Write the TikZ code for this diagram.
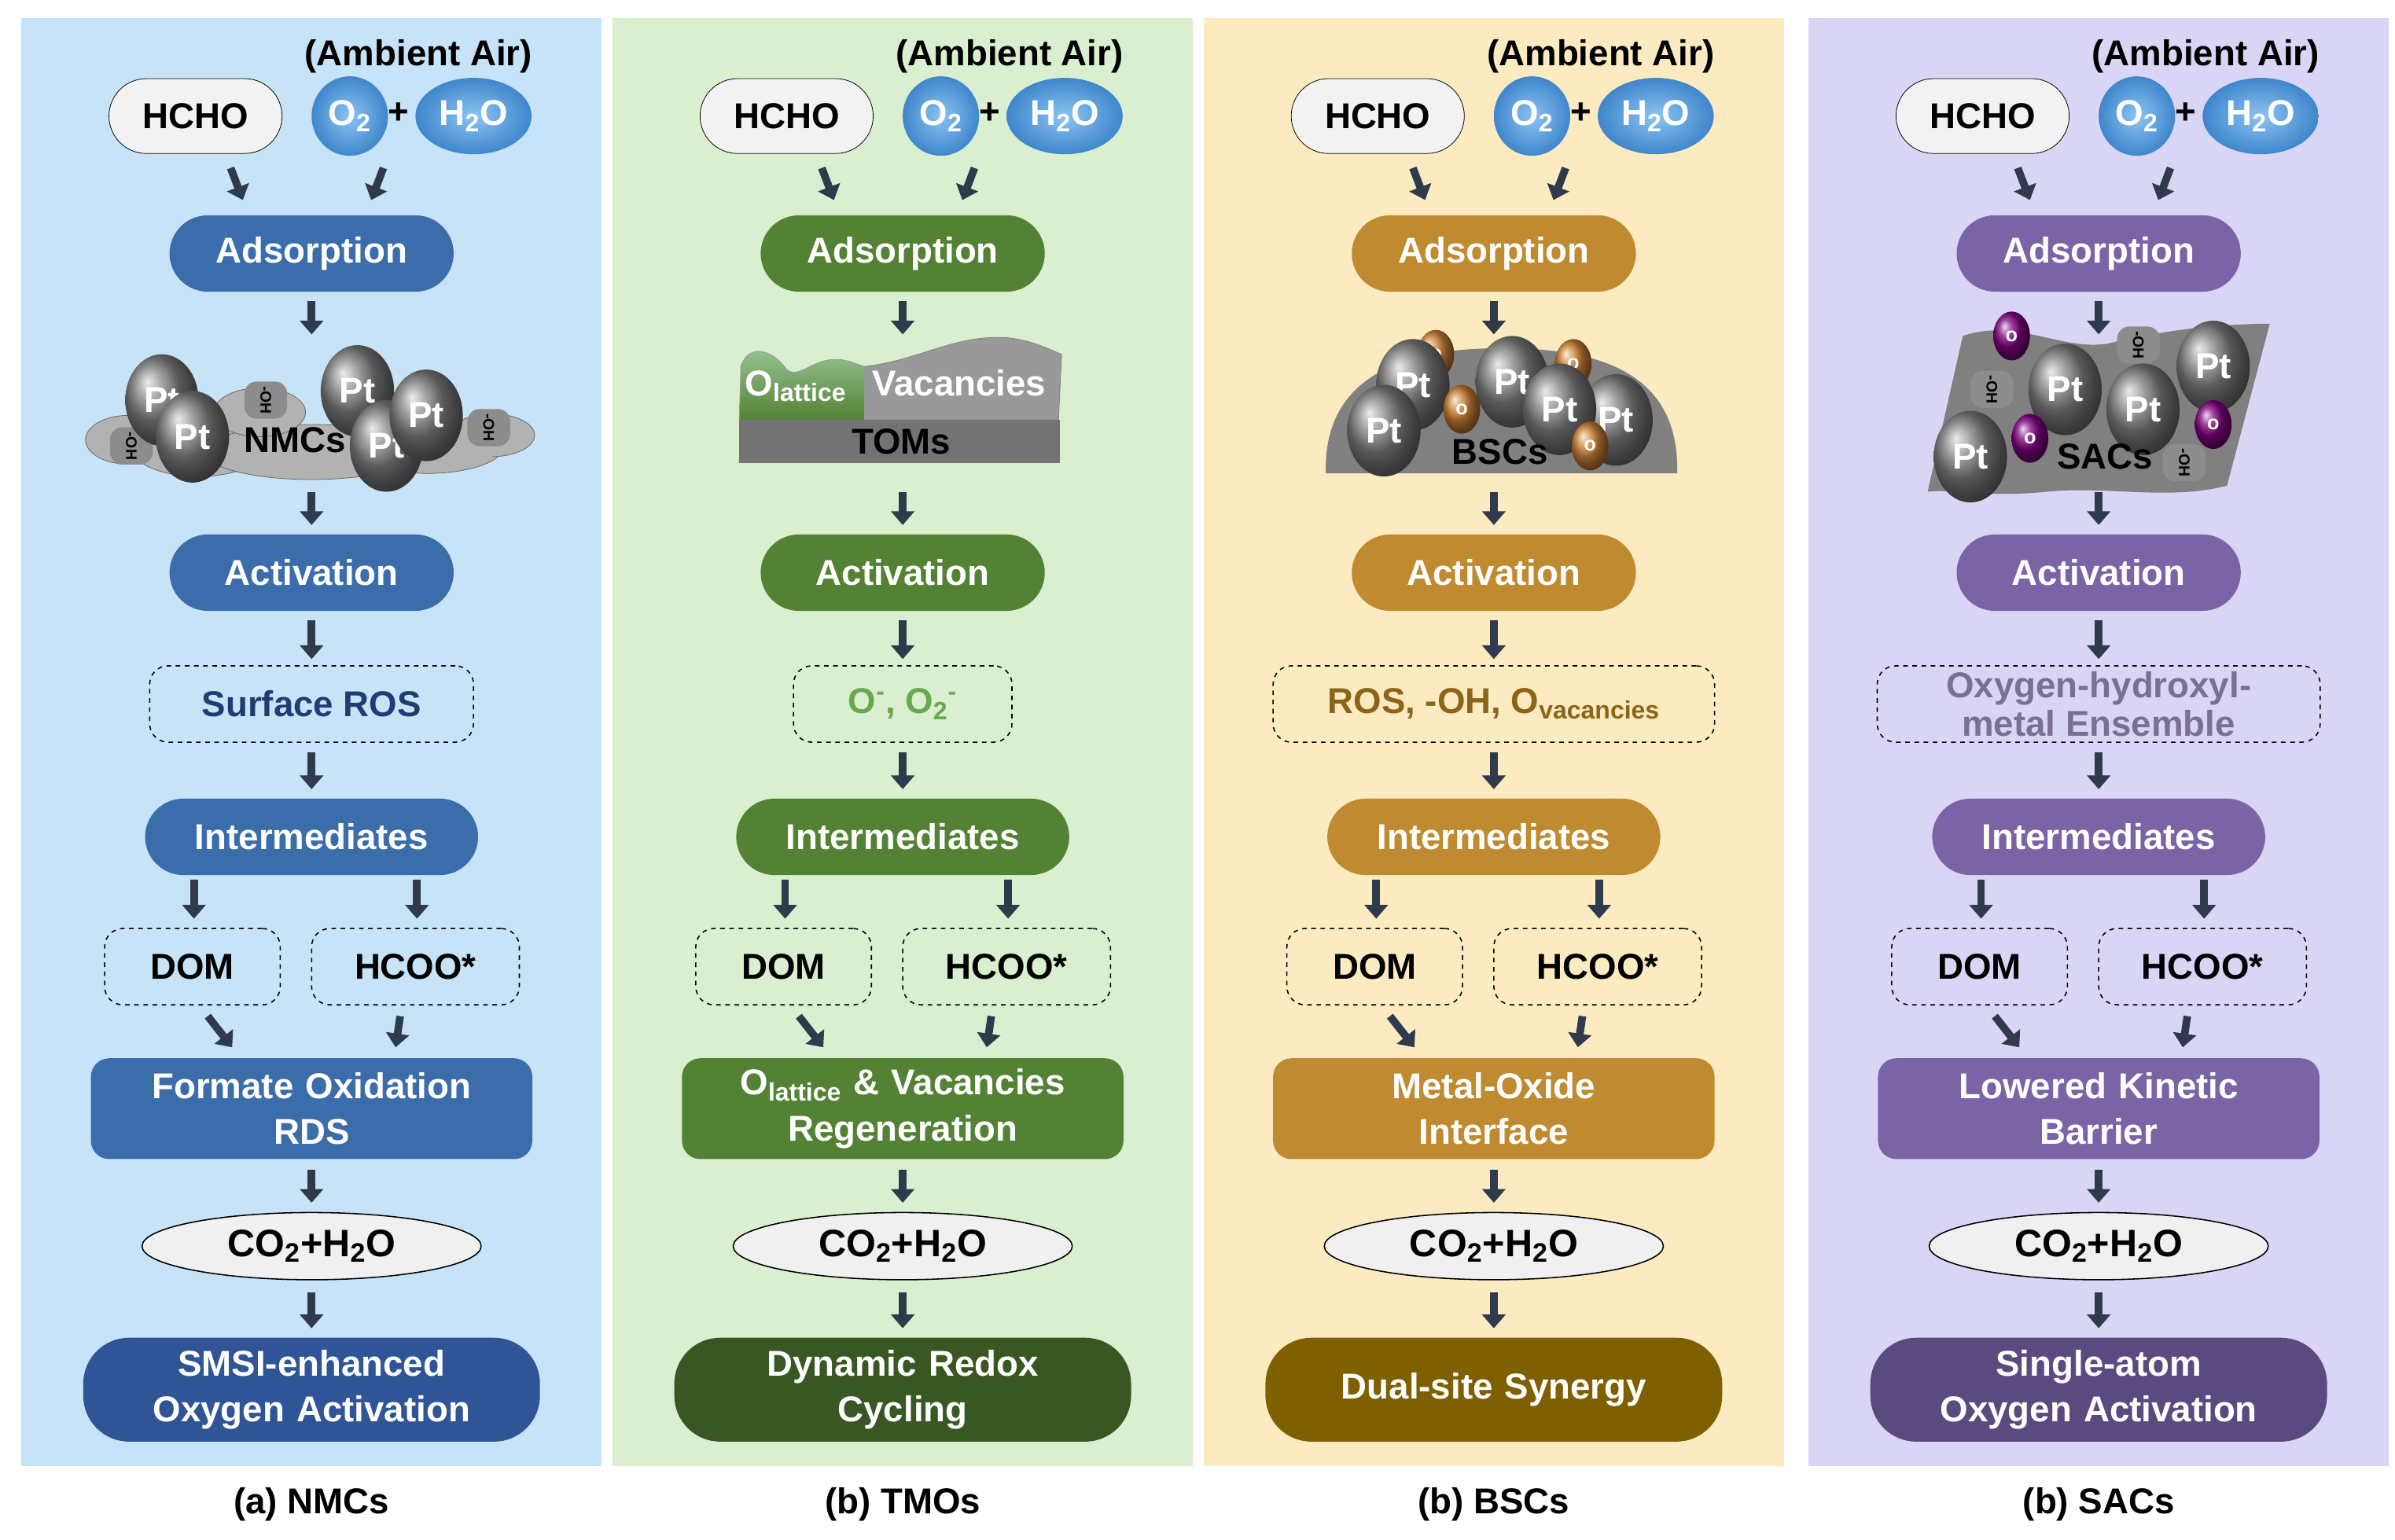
\documentclass[tikz,border=0pt]{standalone}
\usepackage{fontspec}
\setmainfont{Liberation Sans}
\usetikzlibrary{shapes.misc,shapes.geometric,arrows.meta}
\definecolor{abg}{HTML}{C7E3F7}\definecolor{amain}{HTML}{3C6DAB}\definecolor{adark}{HTML}{2F5597}\definecolor{atxt}{HTML}{1F3C73}
\definecolor{bbg}{HTML}{D9EFD0}\definecolor{bmain}{HTML}{548235}\definecolor{bdark}{HTML}{385723}\definecolor{btxt}{HTML}{6AA84F}
\definecolor{cbg}{HTML}{FCEBC0}\definecolor{cmain}{HTML}{BF8A30}\definecolor{cdark}{HTML}{7F6000}\definecolor{ctxt}{HTML}{8B6418}
\definecolor{dbg}{HTML}{D9D6F5}\definecolor{dmain}{HTML}{7B64A6}\definecolor{ddark}{HTML}{5B4A80}\definecolor{dtxt}{HTML}{7A6F95}
\definecolor{arrc}{HTML}{2F3B4C}\definecolor{blob}{HTML}{3F86CC}\definecolor{blobl}{HTML}{8CC4F2}
\tikzset{
 x=1pt,y=-1pt,
 f/.style={font=\fontsize{23.5}{30}\selectfont\bfseries},
 pill/.style={f,shape=rounded rectangle,fill=#1,text=white,minimum height=50,inner sep=2},
 box/.style={f,rounded corners=12,fill=#1,text=white,minimum height=66,minimum width=289,align=center,text width=280},
 dbox/.style={f,rounded corners=12,draw=black,dashed,thick,minimum height=50,align=center},
 arr/.style={draw=arrc,line width=5pt,-{Triangle[width=15pt,length=9pt]}},
 ball/.style={shape=ellipse,shading=ball,ball color=#1,text=white,f,inner sep=0},
 bblob/.style={shape=ellipse,inner color=blobl,outer color=blob,text=white,f,inner sep=0},
}
\newcommand\panel[7]{%
 \fill[#1bg] (#2-190,12) rectangle (#2+190,960);
 \node[f] (#1air) at (#2+70,37) {(Ambient Air)};
 \node[f,shape=rounded rectangle,draw=black,fill=black!5,minimum width=120,minimum height=49] (#1h) at (#2-76,76) {HCHO};
 \node[bblob,minimum width=50,minimum height=52] (#1o) at (#2+25,76) {O\textsubscript{2}};
 \node[f] (#1plus) at (#2+57,74) {+};
 \node[bblob,minimum width=76,minimum height=50] (#1w) at (#2+106,76) {H\textsubscript{2}O};
 \node[pill=#1main,minimum width=190] (#1ads) at (#2,166) {Adsorption};
 \coordinate (#1h1) at (#2-53,110); \coordinate (#1h2) at (#2-45,131);
 \coordinate (#1o1) at (#2+47,110); \coordinate (#1o2) at (#2+39,131);
 \coordinate (#1ca) at (#2,219); \coordinate (#1cb) at (#2,322);
 \draw[arr] (#1h1) -- (#1h2);
 \draw[arr] (#1o1) -- (#1o2);
 \draw[arr] ([yshift=-6pt]#1ads.south) -- (#1ca);
 \node[pill=#1main,minimum width=190] (#1act) at (#2,375) {Activation};
 \draw[arr] (#1cb) -- ([yshift=6pt]#1act.north);
 \node[dbox,text=#1txt,minimum width=#5,font=\fontsize{23.5}{25}\selectfont\bfseries] (#1ros) at (#2,461) {#4};
 \draw[arr] ([yshift=-6pt]#1act.south) -- ([yshift=4pt]#1ros.north);
 \node[pill=#1main,minimum width=222] (#1int) at (#2,548) {Intermediates};
 \draw[arr] ([yshift=-6pt]#1ros.south) -- ([yshift=6pt]#1int.north);
 \node[dbox,minimum width=115] (#1dom) at (#2-78,633) {DOM};
 \node[dbox,minimum width=136] (#1hc) at (#2+68,633) {HCOO*};
 \draw[arr] ([xshift=-77pt,yshift=-3pt]#1int.south) -- ([xshift=-77pt,yshift=6pt]#1int.south |- #1dom.north);
 \draw[arr] ([xshift=69pt,yshift=-3pt]#1int.south) -- ([xshift=69pt,yshift=6pt]#1int.south |- #1hc.north);
 \node[box=#1main] (#1mid) at (#2,726) {#6};
 \draw[arr] ([xshift=10pt,yshift=-7pt]#1dom.south) -- ([xshift=-52pt,yshift=7pt]#1mid.north);
 \draw[arr] ([xshift=-10pt,yshift=-7pt]#1hc.south) -- ([xshift=55pt,yshift=7pt]#1mid.north);
 \node[f,ellipse,draw=black,thick,fill=black!6,minimum width=222,minimum height=44,inner sep=0,font=\fontsize{25}{28}\selectfont\bfseries] (#1co) at (#2,816) {CO\textsubscript{2}+H\textsubscript{2}O};
 \draw[arr] ([yshift=-7pt]#1mid.south) -- ([yshift=6pt]#1co.north);
 \node[box=#1dark,rounded corners=30,minimum width=299,minimum height=68,text width=290] (#1fin) at (#2,910) {#7};
 \draw[arr] ([yshift=-8pt]#1co.south) -- ([yshift=6pt]#1fin.north);
 \node[f] (#1cap) at (#2,985) {#3};
}
\newcommand\pt[3][24]{\node[ball=black!50,minimum width=2*#1,minimum height=2.5*#1] at (#2,#3) {Pt};}
\newcommand\ob[3]{\node[ball=#1,minimum width=24,minimum height=32,font=\fontsize{13}{14}\selectfont\bfseries] at (#2,#3) {o};}
\newcommand\oh[3][0]{\node[fill=black!45,rounded corners=8,rotate=-90,font=\fontsize{10}{11}\selectfont\bfseries,inner sep=3,minimum height=28] at (#2,#3) {-OH};}
\begin{document}
\begin{tikzpicture}
\useasboundingbox (0,0) rectangle (1568,1008);
\fill[white] (0,0) rectangle (1568,1008);
\panel{a}{204}{(a) NMCs}{Surface ROS}{212}{Formate Oxidation\\RDS}{SMSI-enhanced\\Oxygen Activation}
\panel{b}{591}{(b) TMOs}{O\textsuperscript{-}, O\textsubscript{2}\textsuperscript{-}}{143}{O\textsubscript{lattice} \& Vacancies\\Regeneration}{Dynamic Redox\\Cycling}
\panel{c}{978}{(b) BSCs}{ROS, -OH, O\textsubscript{vacancies}}{289}{Metal-Oxide\\Interface}{Dual-site Synergy}
\panel{d}{1374}{(b) SACs}{Oxygen-hydroxyl-\\metal Ensemble}{290}{Lowered Kinetic\\Barrier}{Single-atom\\Oxygen Activation}
% NMCs
\foreach \x/\y/\rx/\ry in {84/288/28/16,130/292/45/20,204/296/70/18,280/292/50/18,322/285/28/14,170/270/30/16}
 \filldraw[fill=black!30,draw=black!60] (\x,\y) ellipse [x radius=\rx, y radius=\ry];
\fill[black!30] (84,292) rectangle (322,300);
\oh{174}{262}\oh{86}{292}\oh{320}{280}
\pt{106}{262}\pt{126}{286}\node[f] at (193,288) {NMCs};
\pt{234}{256}\pt{253}{292}\pt{279}{272}
% TOMs
\filldraw[fill=black!40,draw=black!50] (566,240) .. controls (600,236) and (620,222) .. (650,221) .. controls (670,220) and (685,228) .. (695,232) -- (693,275) -- (566,275) -- cycle;
\shade[top color=green!45!black!40,bottom color=bmain,draw=black!40] (484,275) -- (485,240) .. controls (490,225) and (505,228) .. (515,242) .. controls (525,250) and (535,228) .. (560,238) -- (566,240) -- (566,275) -- cycle;
\fill[black!55] (484,275) rectangle (694,303);
\node[f,text=white,inner sep=0] at (521,253) {O\textsubscript{lattice}};
\node[f,text=white,inner sep=0] at (628,251) {Vacancies};
\node[f] at (590,289) {TOMs};
% BSCs
\fill[black!50] (868,310) .. controls (866,240) and (930,228) .. (983,228) .. controls (1040,228) and (1100,240) .. (1098,310) -- cycle;
\ob{brown!80!orange}{940}{232}\ob{brown!80!orange}{1030}{238}
\pt{925}{252}\pt{990}{250}\pt{1058}{275}\pt{1021}{268}\pt{906}{282}
\ob{brown!80!orange}{957}{268}\ob{brown!80!orange}{1041}{292}
\node[f] at (982,296) {BSCs};
% SACs
\fill[black!50] (1285,220) .. controls (1320,208) and (1350,230) .. (1380,225) .. controls (1420,215) and (1460,212) .. (1486,212) -- (1458,318) .. controls (1420,328) and (1380,318) .. (1340,322) .. controls (1300,326) and (1280,320) .. (1262,322) -- cycle;
\oh{1304}{255}\oh{1400}{226}\oh{1430}{303}
\ob{violet}{1317}{220}
\pt{1352}{255}\pt{1403}{268}\pt{1449}{240}\pt{1290}{299}
\ob{violet}{1329}{287}\ob{violet}{1449}{278}
\node[f] at (1378,299) {SACs};
\end{tikzpicture}
\end{document}
